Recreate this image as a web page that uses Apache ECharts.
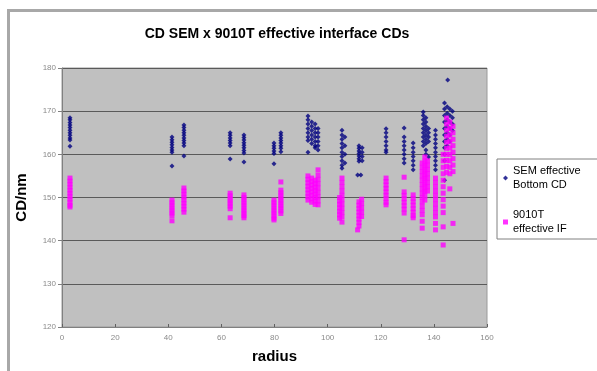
<!DOCTYPE html>
<html>
<head>
<meta charset="utf-8">
<script src="https://cdn.jsdelivr.net/npm/echarts@6/dist/echarts.min.js"></script>
<style>
  html, body { margin: 0; padding: 0; background: #fff; }
  #chart { width: 597px; height: 371px; }
</style>
</head>
<body>
<div id="chart"></div>
<script>
// [radius, CD], grouped by radius cluster
var semPoints = [
  [3, 168.5], [3, 168], [3, 167.4], [3, 166.8], [3, 166.2], [3, 165.6], [3, 165], [3, 164.4], [3, 163.8], [3, 163.3], [3, 161.9],
  [41.4, 164], [41.4, 163.4], [41.4, 162.8], [41.4, 162.2], [41.4, 161.6], [41.4, 161], [41.4, 160.5], [41.4, 157.3],
  [45.9, 166.8], [45.9, 166.2], [45.9, 165.6], [45.9, 165], [45.9, 164.4], [45.9, 163.8], [45.9, 163.2], [45.9, 162.6], [45.9, 162], [45.9, 159.6],
  [63.3, 165], [63.3, 164.4], [63.3, 163.8], [63.3, 163.2], [63.3, 162.6], [63.3, 162], [63.3, 158.9],
  [68.5, 164.5], [68.5, 163.9], [68.5, 163.3], [68.5, 162.7], [68.5, 162.1], [68.5, 161.5], [68.5, 160.9], [68.5, 160.3], [68.5, 158.2],
  [79.8, 162.6], [79.8, 162], [79.8, 161.4], [79.8, 160.8], [79.8, 160.2], [79.8, 157.8],
  [82.4, 165], [82.4, 164.4], [82.4, 163.8], [82.4, 163.2], [82.4, 162.6], [82.4, 162], [82.4, 161.4], [82.4, 160.6],
  [92.6, 168.9], [92.6, 168], [92.6, 167], [92.6, 166], [92.6, 165], [92.6, 164], [92.6, 163.2], [92.6, 160.5],
  [94, 167.5], [94, 166.5], [94, 165.5], [94, 164.5], [94, 163.5], [94, 162.5],
  [95.3, 167], [95.3, 166], [95.3, 165], [95.3, 164], [95.3, 163], [95.3, 162], [95.3, 161.5],
  [96.4, 166], [96.4, 165], [96.4, 164], [96.4, 163], [96.4, 162], [96.4, 161],
  [105.4, 165.6], [105.4, 164.5], [105.4, 163.5], [105.4, 162.5], [105.4, 161.5], [105.4, 160.5], [105.4, 159.5], [105.4, 158.5], [105.4, 157.5], [105.4, 156.8],
  [106.5, 164], [106.5, 162], [106.5, 160], [106.5, 158],
  [111.8, 162], [111.8, 161.4], [111.8, 160.8], [111.8, 160.2], [111.8, 159.6], [111.8, 159], [111.8, 158.4], [111.3, 155.2], [112.5, 155.2],
  [113, 161.5], [113, 160.5], [113, 159.5], [113, 158.5],
  [122, 165.9], [122, 165], [122, 164], [122, 163], [122, 162], [122, 161], [122, 160.5],
  [128.8, 166.1], [128.8, 164], [128.8, 163], [128.8, 162], [128.8, 161], [128.8, 160], [128.8, 159], [128.8, 158],
  [132.2, 162.6], [132.2, 161.5], [132.2, 160.5], [132.2, 159.5], [132.2, 158.5], [132.2, 157.5], [132.2, 156.4],
  [136, 169.8], [136, 169], [136, 168], [136, 167], [136, 166], [136, 165], [136, 164], [136, 163], [136, 162],
  [137, 168.5], [137, 167.5], [137, 166.5], [137, 165.5], [137, 164.5], [137, 163.5], [137, 162.5], [137, 161], [137, 160],
  [138, 166], [138, 165], [138, 164], [138, 163], [138, 159.4],
  [140.6, 165.6], [140.6, 164.5], [140.6, 163.5], [140.6, 162.5], [140.6, 161.5], [140.6, 160.5], [140.6, 159.5], [140.6, 158.5], [140.6, 157.5], [140.6, 156.4],
  [145.2, 177.2],
  [144, 171.9], [144, 170.5], [144, 169], [144, 167.5], [144, 166], [144, 164.5], [144, 163], [144, 161.5], [144, 160], [144, 158.5], [144, 154],
  [145, 171], [145, 169.5], [145, 168], [145, 166.5], [145, 165], [145, 163.5], [145, 162],
  [146, 170.5], [146, 169], [146, 167.5], [146, 166], [146, 164.5], [146, 163],
  [147, 170], [147, 168.5], [147, 167], [147, 165.5]
];

var ifPoints = [
  [3, 154.5], [3, 153.8], [3, 153.1], [3, 152.4], [3, 151.7], [3, 151], [3, 150.3], [3, 149.6], [3, 148.9], [3, 148.2], [3, 147.8],
  [41.4, 149.4], [41.4, 148.8], [41.4, 148.2], [41.4, 147.6], [41.4, 147], [41.4, 146.4], [41.4, 145.8], [41.4, 144.6],
  [45.9, 152.2], [45.9, 151.5], [45.9, 150.8], [45.9, 150.1], [45.9, 149.4], [45.9, 148.7], [45.9, 148], [45.9, 147.3], [45.9, 146.6],
  [63.3, 151], [63.3, 150.4], [63.3, 149.8], [63.3, 149.2], [63.3, 148.6], [63.3, 148], [63.3, 147.4], [63.3, 145.3],
  [68.5, 150.6], [68.5, 150], [68.5, 149.4], [68.5, 148.8], [68.5, 148.2], [68.5, 147.6], [68.5, 147], [68.5, 146.4], [68.5, 145.8], [68.5, 145.3],
  [79.8, 149.4], [79.8, 148.8], [79.8, 148.2], [79.8, 147.6], [79.8, 147], [79.8, 146.4], [79.8, 145.8], [79.8, 145.2], [79.8, 144.8],
  [82.4, 153.6], [82.4, 151.7], [82.4, 151.1], [82.4, 150.5], [82.4, 149.9], [82.4, 149.3], [82.4, 148.7], [82.4, 148.1], [82.4, 147.5], [82.4, 146.9], [82.4, 146.3],
  [92.6, 155], [92.6, 154.2], [92.6, 153.4], [92.6, 152.6], [92.6, 151.8], [92.6, 151], [92.6, 150.2], [92.6, 149.4],
  [94, 154.5], [94, 153.7], [94, 152.9], [94, 152.1], [94, 151.3], [94, 150.5], [94, 149.7], [94, 148.9],
  [95.3, 154], [95.3, 153.2], [95.3, 152.4], [95.3, 151.6], [95.3, 150.8], [95.3, 150], [95.3, 149.2], [95.3, 148.4],
  [96.4, 156.4], [96.4, 155.2], [96.4, 154.2], [96.4, 153.2], [96.4, 152.2], [96.4, 151.2], [96.4, 150.2], [96.4, 149.2], [96.4, 148.3],
  [104.5, 150], [104.5, 149.2], [104.5, 148.4], [104.5, 147.6], [104.5, 146.8], [104.5, 146], [104.5, 145.2],
  [105.4, 154.5], [105.4, 153.5], [105.4, 152.5], [105.4, 151.5], [105.4, 150.5], [105.4, 149.5], [105.4, 148.5], [105.4, 147.5], [105.4, 146.5], [105.4, 145.5], [105.4, 144.3],
  [111.8, 149], [111.8, 148.2], [111.8, 147.4], [111.8, 146.6], [111.8, 145.8], [111.8, 145], [111.8, 144.2], [111.8, 143.4], [111.3, 142.5],
  [112.8, 149.6], [112.8, 148.6], [112.8, 147.6], [112.8, 146.6], [112.8, 145.6],
  [122, 154.5], [122, 153.7], [122, 152.9], [122, 152.1], [122, 151.3], [122, 150.5], [122, 149.7], [122, 148.9], [122, 148.3],
  [128.8, 154.7], [128.8, 151.3], [128.8, 150.5], [128.8, 149.7], [128.8, 148.9], [128.8, 148.1], [128.8, 147.3], [128.8, 146.4], [128.8, 140.2],
  [132.2, 150.6], [132.2, 149.8], [132.2, 149], [132.2, 148.2], [132.2, 147.4], [132.2, 146.6], [132.2, 145.8], [132.2, 145.3],
  [135.6, 158], [135.6, 157], [135.6, 156], [135.6, 155], [135.6, 154], [135.6, 153], [135.6, 152], [135.6, 151], [135.6, 150], [135.6, 149], [135.6, 148], [135.6, 147], [135.6, 146], [135.6, 144.5], [135.6, 142.9],
  [136.6, 159.4], [136.6, 158.4], [136.6, 157.4], [136.6, 156.4], [136.6, 155.4], [136.6, 154.4], [136.6, 153.4], [136.6, 152.4], [136.6, 151.4], [136.6, 150.4], [136.6, 149.4],
  [137.6, 158.5], [137.6, 157.5], [137.6, 156.5], [137.6, 155.5], [137.6, 154.5], [137.6, 153.5], [137.6, 152.5], [137.6, 151.5],
  [140.6, 154.5], [140.6, 153.5], [140.6, 152.5], [140.6, 151.5], [140.6, 150.5], [140.6, 149.5], [140.6, 148.5], [140.6, 147.5], [140.6, 146.5], [140.6, 145.5], [140.6, 144], [140.6, 142.5],
  [143.5, 160], [143.5, 158.5], [143.5, 157], [143.5, 155.5], [143.5, 154], [143.5, 152.5], [143.5, 151], [143.5, 149.5], [143.5, 148], [143.5, 146.5], [143.5, 143.2], [143.5, 139],
  [144.8, 168.4], [144.8, 167], [144.8, 165.6], [144.8, 164.2], [144.8, 162.8], [144.8, 161.4], [144.8, 160], [144.8, 158.6], [144.8, 157.2], [144.8, 155.8],
  [146, 167.5], [146, 166], [146, 164.5], [146, 163], [146, 161.5], [146, 160], [146, 158.5], [146, 157], [146, 155.5], [146, 152],
  [147.2, 166.5], [147.2, 165], [147.2, 163.5], [147.2, 162], [147.2, 160.5], [147.2, 159], [147.2, 157.5], [147.2, 156], [147.2, 144]
];

var semName = 'SEM effective Bottom CD';
var ifName = '9010T effective IF';
var legendText = {};
legendText[semName] = 'SEM effective\nBottom CD';
legendText[ifName] = '9010T\neffective IF';

var myChart = echarts.init(document.getElementById('chart'));

var option = {
  backgroundColor: '#ffffff',
  animation: false,
  title: {
    text: 'CD SEM x 9010T effective interface CDs',
    left: 272,
    textAlign: 'center',
    top: 22,
    textStyle: {
      fontFamily: 'Liberation Sans',
      fontSize: 14,
      fontWeight: 'bold',
      color: '#000'
    }
  },
  graphic: [{
    type: 'rect',
    left: 6,
    top: 8,
    shape: { width: 620, height: 400 },
    style: { fill: 'none', stroke: '#a8a8a8', lineWidth: 3 },
    silent: true
  }],
  legend: {
    orient: 'vertical',
    left: 497,
    top: 159,
    data: [semName, ifName],
    formatter: function (name) { return legendText[name]; },
    backgroundColor: '#ffffff',
    borderColor: '#808080',
    borderWidth: 1,
    borderRadius: 0,
    padding: [5, 20, 3, 6],
    itemGap: 16,
    itemWidth: 5,
    itemHeight: 5,
    textStyle: {
      fontFamily: 'Liberation Sans',
      fontSize: 11,
      lineHeight: 14,
      color: '#000'
    }
  },
  grid: {
    left: 62,
    right: 110,
    top: 68,
    bottom: 44,
    show: true,
    backgroundColor: '#c0c0c0',
    borderColor: '#9a9a9a',
    borderWidth: 1
  },
  xAxis: {
    type: 'value',
    name: 'radius',
    nameLocation: 'middle',
    nameGap: 22,
    nameTextStyle: {
      fontFamily: 'Liberation Sans',
      fontSize: 15,
      fontWeight: 'bold',
      color: '#000'
    },
    min: 0,
    max: 160,
    interval: 20,
    axisLine: { show: true, lineStyle: { color: '#808080' } },
    axisTick: { show: true, inside: true, length: 3, lineStyle: { color: '#606060' } },
    axisLabel: { fontFamily: 'Liberation Sans', fontSize: 8, color: '#8a8a8a', margin: 7 },
    splitLine: { show: false }
  },
  yAxis: {
    type: 'value',
    name: 'CD/nm',
    nameLocation: 'middle',
    nameGap: 33,
    nameTextStyle: {
      fontFamily: 'Liberation Sans',
      fontSize: 15,
      fontWeight: 'bold',
      color: '#000'
    },
    min: 120,
    max: 180,
    interval: 10,
    axisLine: { show: true, lineStyle: { color: '#808080' } },
    axisTick: { show: true, length: 4, lineStyle: { color: '#808080' } },
    axisLabel: { fontFamily: 'Liberation Sans', fontSize: 8, color: '#8a8a8a', margin: 6 },
    splitLine: { show: true, lineStyle: { color: '#5a5a5a', width: 1 } }
  },
  series: [
    {
      name: semName,
      type: 'scatter',
      symbol: 'diamond',
      symbolSize: 5,
      itemStyle: { color: '#000080' },
      data: semPoints
    },
    {
      name: ifName,
      type: 'scatter',
      symbol: 'rect',
      symbolSize: 5,
      itemStyle: { color: '#ff00ff' },
      data: ifPoints
    }
  ]
};

myChart.setOption(option);
</script>
</body>
</html>
